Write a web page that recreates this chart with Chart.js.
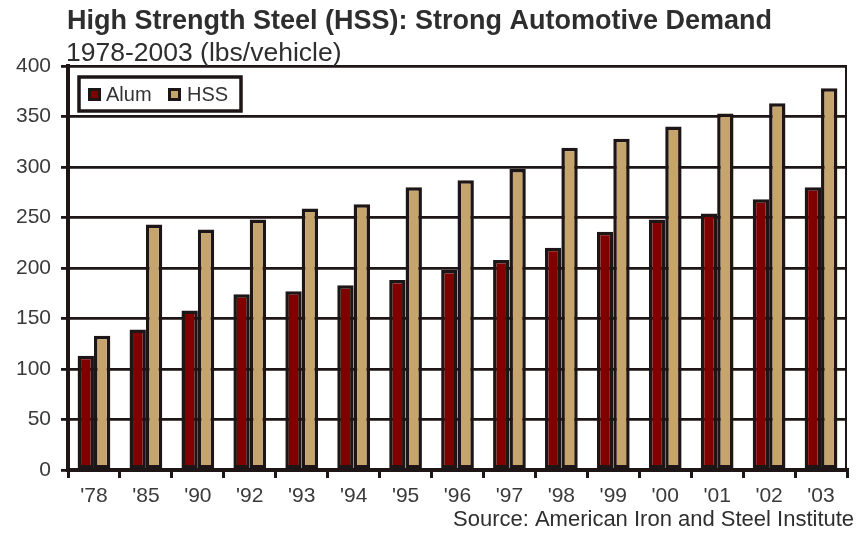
<!DOCTYPE html>
<html>
<head>
<meta charset="utf-8">
<script src="https://cdn.jsdelivr.net/npm/chart.js@4"></script>
<style>
html,body{margin:0;padding:0;background:#fff;}
#wrap{width:856px;height:538px;}
</style>
</head>
<body>
<div id="wrap"><canvas id="c" width="856" height="538"></canvas></div>
<script>
const categories = ["'78","'85","'90","'92","'93","'94","'95","'96","'97","'98","'99","'00","'01","'02","'03"];
const alumValues = [113,139,158,174,177,183,188,198,208,220,236,248,254,268,280];
const hssValues  = [133,243,238,248,259,263,280,287,298,319,328,340,353,363,378];
const yTicks = [0,50,100,150,200,250,300,350,400];
const titleText = "High Strength Steel (HSS): Strong Automotive Demand";
const subtitleText = "1978-2003 (lbs/vehicle)";
const sourceText = "Source: American Iron and Steel Institute";
const seriesNames = ["Alum","HSS"];

const FONT = "'Liberation Sans', Arial, sans-serif";
const DARK = "#1e1616";

const decor = {
  id: 'decor',
  afterDatasetsDraw(chart) {
    const ctx = chart.ctx;
    const a = chart.chartArea;
    ctx.save();
    // right border
    ctx.strokeStyle = DARK;
    ctx.lineWidth = 2;
    ctx.beginPath();
    ctx.moveTo(a.right - 1, a.top);
    ctx.lineTo(a.right - 1, a.bottom);
    ctx.stroke();
    // legend box
    const lx = 79, ly = 77, lw = 162, lh = 34;
    ctx.fillStyle = '#fff';
    ctx.fillRect(lx, ly, lw, lh);
    ctx.lineWidth = 3.5;
    ctx.strokeStyle = DARK;
    ctx.strokeRect(lx, ly, lw, lh);
    const items = chart.data.datasets.map((d, i) => ({label: d.label, color: d.backgroundColor}));
    const xs = [[88, 106], [168, 187]];
    ctx.font = "20px " + FONT;
    ctx.textBaseline = 'alphabetic';
    items.forEach((it, i) => {
      const sx = xs[i][0], tx = xs[i][1];
      ctx.fillStyle = DARK;
      ctx.fillRect(sx, 88, 13, 13);
      ctx.fillStyle = it.color;
      ctx.fillRect(sx + 3, 91, 7, 7);
      ctx.fillStyle = '#333';
      ctx.fillText(it.label, tx, 101);
    });
    // titles
    ctx.fillStyle = '#2e2e2e';
    ctx.font = "bold 27px " + FONT;
    ctx.fillText(titleText, 67, 29);
    ctx.font = "26.5px " + FONT;
    ctx.fillText(subtitleText, 66, 61);
    ctx.font = "22px " + FONT;
    ctx.fillText(sourceText, 453, 526);
    ctx.restore();
  }
};

new Chart(document.getElementById('c'), {
  type: 'bar',
  data: {
    labels: categories,
    datasets: [
      {label: seriesNames[0], data: alumValues, backgroundColor: '#800000', borderColor: DARK, borderWidth: 3.5, borderSkipped: false},
      {label: seriesNames[1], data: hssValues, backgroundColor: '#c5a46d', borderColor: DARK, borderWidth: 3.5, borderSkipped: false}
    ]
  },
  options: {
    responsive: false,
    animation: false,
    devicePixelRatio: 1,
    layout: {padding: {top: 66, right: 9, left: 0, bottom: 0}},
    plugins: {legend: {display: false}, title: {display: false}, tooltip: {enabled: false}},
    datasets: {bar: {categoryPercentage: 0.63, barPercentage: 1.0}},
    scales: {
      x: {
        grid: {offset: true, drawOnChartArea: false, drawTicks: true, tickLength: 8, color: DARK, lineWidth: 3},
        border: {display: true, color: DARK, width: 4},
        ticks: {color: '#3a3a3a', font: {family: FONT, size: 21}, padding: 6, maxRotation: 0, autoSkip: false},
        afterFit(s) { s.height = 68; }
      },
      y: {
        min: 0, max: 400,
        afterBuildTicks(s) { s.ticks = yTicks.map(v => ({value: v})); },
        grid: {color: DARK, lineWidth: 2.8, drawTicks: true, tickLength: 7},
        border: {display: true, color: DARK, width: 4},
        ticks: {color: '#3a3a3a', font: {family: FONT, size: 21}, padding: 10},
        afterFit(s) { s.width = 68; }
      }
    }
  },
  plugins: [decor]
});
</script>
</body>
</html>
